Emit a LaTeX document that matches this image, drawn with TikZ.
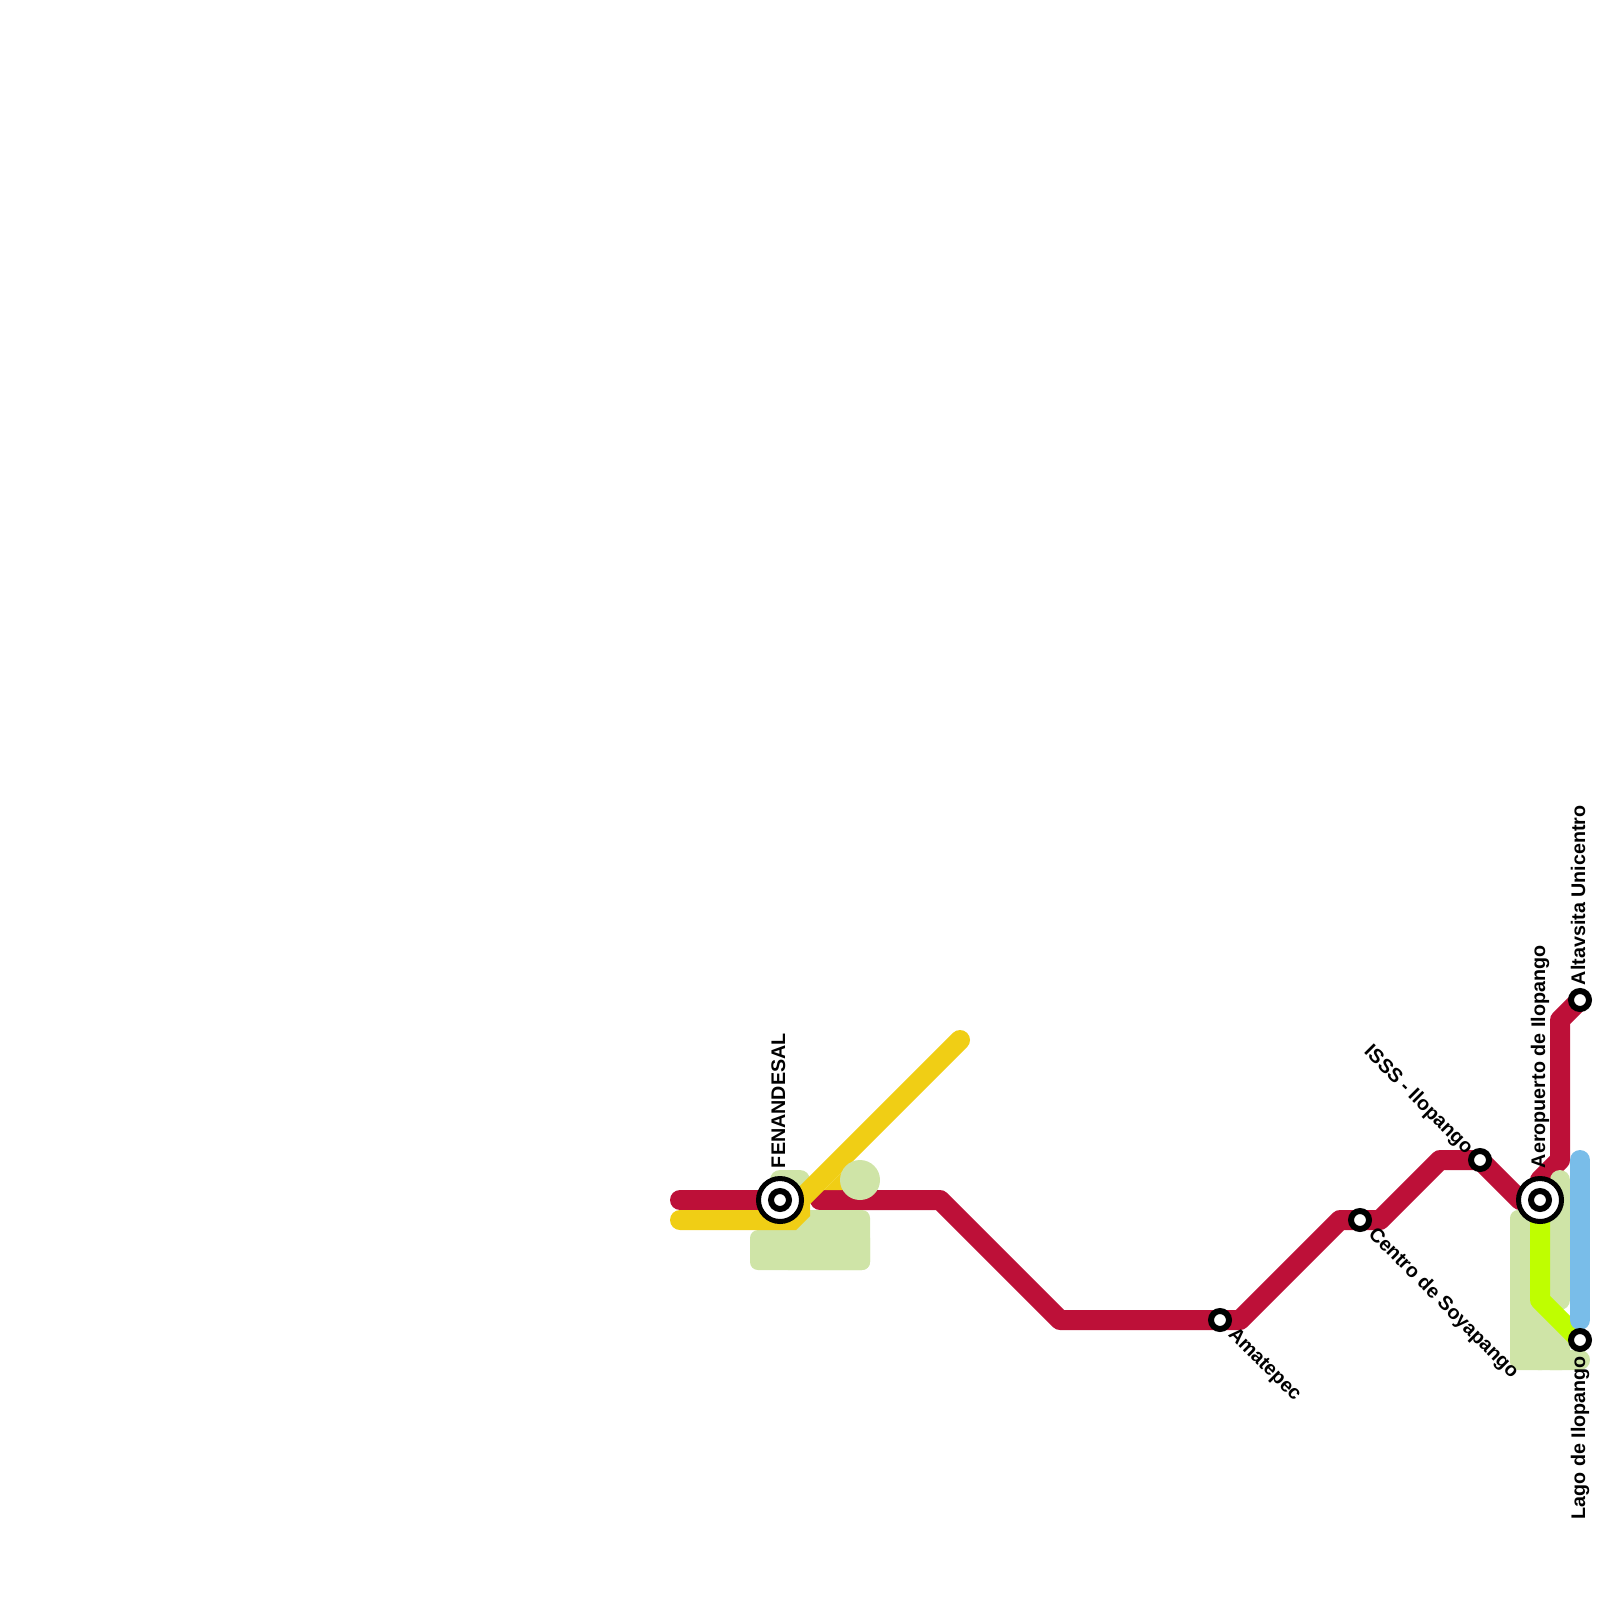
\documentclass[tikz,border=0pt]{standalone}
\usepackage{fontspec}
\setmainfont{Liberation Sans}
\definecolor{redline}{HTML}{BD1038}
\definecolor{yellowline}{HTML}{F0CE15}
\definecolor{limeline}{HTML}{BFFE00}
\definecolor{blueline}{HTML}{79BDE9}
\definecolor{pale}{HTML}{CFE4A7}
\tikzset{
  metro/.style={line width=20pt,line cap=round,line join=round},
  palebox/.style={fill=pale,rounded corners=8pt},
  stopmark/.style={circle,fill=white,draw=black,line width=6pt,minimum size=18pt,inner sep=0pt,outer sep=0pt},
  hubmark/.style={circle,fill=white,draw=black,line width=5pt,minimum size=43pt,inner sep=0pt,outer sep=0pt},
  hubcore/.style={circle,fill=white,draw=black,line width=6pt,minimum size=18pt,inner sep=0pt,outer sep=0pt},
  stoplabel/.style={font=\fontsize{19.7pt}{20pt}\selectfont\bfseries,inner sep=0pt,outer sep=0pt,text=black}
}
\begin{document}
\begin{tikzpicture}[x=1pt,y=-1pt]
\useasboundingbox (0,0) rectangle (1600,1600);
% named points
\coordinate (fen) at (780,1200);
\coordinate (ama) at (1220,1320);
\coordinate (cen) at (1360,1220);
\coordinate (iss) at (1480,1160);
\coordinate (aer) at (1540,1200);
\coordinate (alt) at (1580,1000);
\coordinate (lag) at (1580,1340);
\coordinate (redW) at (680,1200);
\coordinate (redE) at (820,1200);
\coordinate (r1) at (940,1200);
\coordinate (r2) at (1060,1320);
\coordinate (r3) at (1240,1320);
\coordinate (r4) at (1340,1220);
\coordinate (r5) at (1380,1220);
\coordinate (r6) at (1440,1160);
\coordinate (r7) at (1520,1200);
\coordinate (r8) at (1540,1180);
\coordinate (r9) at (1560,1160);
\coordinate (r10) at (1560,1020);
\coordinate (yW) at (680,1220);
\coordinate (y0) at (792,1220);
\coordinate (y1) at (800,1212);
\coordinate (y2) at (800,1200);
\coordinate (yE) at (960,1040);
\coordinate (l1) at (1540,1300);
\coordinate (b1) at (1580,1160);
\coordinate (b2) at (1580,1320);
\coordinate (p1) at (780,1180);
\coordinate (p2) at (800,1180);
\coordinate (p3) at (1560,1180);
\coordinate (p4) at (1560,1300);
% red line
\draw[metro,redline] (redW) -- (fen);
\draw[metro,redline] (redE) -- (r1) -- (r2) -- (r3) -- (r4) -- (r5) -- (r6) -- (iss) -- (r7) -- (aer) -- (r8) -- (r9) -- (r10) -- (alt);
% pale blocks
\fill[palebox] (750,1230) rectangle (870,1270);
\fill[palebox] (780,1210) rectangle (870,1270);
\draw[metro,pale] (p1) -- (p2);
\fill[palebox] (1510,1210) rectangle (1550,1370);
\fill[palebox] (1530,1320) rectangle (1570,1370);
\fill[fill=pale,rounded corners=10pt] (1540,1350) rectangle (1590,1370);
\draw[metro,pale] (p3) -- (p4);
% other lines
\draw[metro,yellowline,line join=miter] (yW) -- (y0) -- (y1) -- (y2) -- (yE);
\fill[yellowline] (824,1190) -- (852,1190) -- (862,1165) -- (849,1165) -- cycle;
\draw[metro,limeline] (aer) -- (l1) -- (lag);
\draw[metro,blueline] (b1) -- (b2);
\fill[pale] (860,1180) circle (20pt);
% stations
\node[hubmark] (fenO) at (fen) {};
\node[hubcore] (fenI) at (fen) {};
\node[hubmark] (aerO) at (aer) {};
\node[hubcore] (aerI) at (aer) {};
\node[stopmark] (amaS) at (ama) {};
\node[stopmark] (cenS) at (cen) {};
\node[stopmark] (issS) at (iss) {};
\node[stopmark] (altS) at (alt) {};
\node[stopmark] (lagS) at (lag) {};
% labels
\node[stoplabel,rotate=90,anchor=base west] (fenL) at (785,1168) {FENANDESAL};
\node[stoplabel,rotate=90,anchor=base west] (aerL) at (1545,1168) {Aeropuerto de Ilopango};
\node[stoplabel,rotate=90,anchor=base west] (altL) at (1585,985) {Altavsita Unicentro};
\node[stoplabel,rotate=90,anchor=base east] (lagL) at (1585,1356) {Lago de Ilopango};
\node[stoplabel,rotate=-45,anchor=base west] (amaL) at (1227.5,1335) {Amatepec};
\node[stoplabel,rotate=-45,anchor=base west] (cenL) at (1367.5,1235) {Centro de Soyapango};
\node[stoplabel,rotate=-45,anchor=base east] (issL) at (1465.5,1155) {ISSS - Ilopango};
\end{tikzpicture}
\end{document}
